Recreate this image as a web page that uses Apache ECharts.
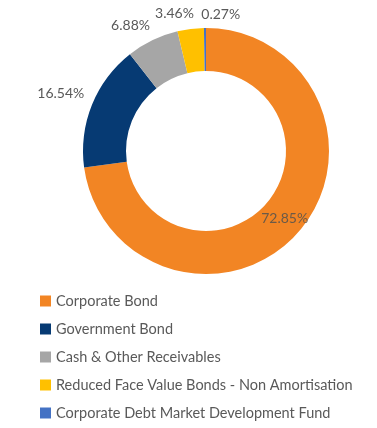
<!DOCTYPE html>
<html><head><meta charset="utf-8">
<script src="https://cdn.jsdelivr.net/npm/echarts@6/dist/echarts.min.js"></script>
<style>html,body{margin:0;padding:0;background:#fff}#c{width:377px;height:428px}</style>
</head><body><div id="c"></div>
<script>
var categories = ['Corporate Bond','Government Bond','Cash & Other Receivables','Reduced Face Value Bonds - Non Amortisation','Corporate Debt Market Development Fund'];
var values = [72.85, 16.54, 6.88, 3.46, 0.27];
var labels = ['72.85%','16.54%','6.88%','3.46%','0.27%'];
var colors = ['#F28524','#063A73','#A6A6A6','#FFC000','#4472C4'];
var outerLabelOffsets = [[0,0],[-8,-2],[-11,8],[-13,9],[16,11]];

var FONT = 'Lato';
var mainData = categories.map(function(n,i){
  return {name:n, value:values[i], itemStyle:{color:colors[i]},
    label:{show:i===0}};
});
var labelData = categories.map(function(n,i){
  return {name:n, value:values[i],
    label:{show:i!==0, offset:outerLabelOffsets[i]}};
});
var chart = echarts.init(document.getElementById('c'));
chart.setOption({
  animation:false,
  legend:{orient:'vertical', left:35, top:288, height:140, icon:'rect', itemWidth:11, itemHeight:11,
    itemGap:12, itemTextGap:3,
    textStyle:{fontFamily:FONT, fontSize:14.5, color:'#595959', lineHeight:16},
    data:categories},
  series:[
    {type:'pie', center:[206,151], radius:[80,123], startAngle:90, clockwise:true,
     silent:true, data:mainData,
     label:{position:'inside', offset:[0,-1], formatter:function(p){return labels[p.dataIndex];},
       fontFamily:FONT, fontSize:14, color:'#6b5a48'},
     labelLine:{show:false}},
    {type:'pie', center:[206,151], radius:[125,165], startAngle:90, clockwise:true,
     silent:true, data:labelData, itemStyle:{color:'rgba(0,0,0,0)'},
     label:{position:'inside', formatter:function(p){return labels[p.dataIndex];},
       fontFamily:FONT, fontSize:14, color:'#595959'},
     labelLine:{show:false}}
  ]
});
</script></body></html>
